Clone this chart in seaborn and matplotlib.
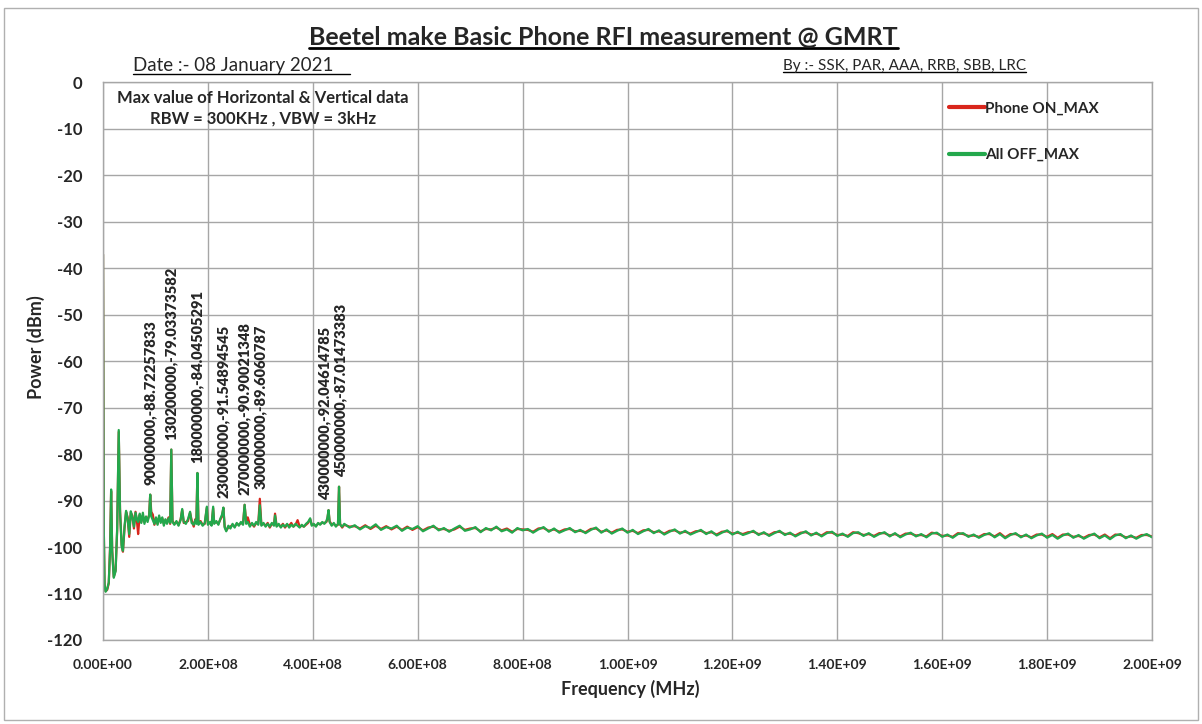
import pandas as pd
import numpy as np
import matplotlib
matplotlib.use("Agg")
import matplotlib.pyplot as plt
import seaborn as sns
from matplotlib.lines import Line2D
from matplotlib.patches import Rectangle
from matplotlib.ticker import FuncFormatter, MultipleLocator

# spectrum trace below 460 MHz (MHz / dBm)
freq_head_mhz = [
    0, 1.5, 3, 5, 8, 11, 13.5, 15.5, 17.5, 20.5, 24, 27, 30, 32.5, 35.5, 38, 41, 44, 47, 50,
    53, 56, 59, 62, 65, 67, 70, 73, 76, 79, 82, 85, 88, 90, 92, 95, 98, 101, 104, 107,
    110, 113, 116, 119, 122, 125, 128, 130.2, 132.5, 136, 140, 144, 148, 151, 154, 158, 162, 166, 169, 173,
    176, 178, 180, 182, 186, 190, 194, 198, 200, 204, 207, 210, 212, 216, 220, 224, 227, 229.5, 232, 235,
    239, 243, 247, 251, 255, 259, 263, 267, 270, 273, 276, 280, 284, 288, 292, 296, 299, 302, 306, 310,
    314, 318, 322, 326, 328, 331, 335, 339, 343, 347, 351, 355, 359, 363, 367, 371, 375, 379, 383, 387,
    391, 395, 398, 402, 406, 410, 414, 418, 422, 426, 428, 430, 432, 436, 440, 444, 448, 450, 452, 456,
]
off_head = [
    -37.0, -96.0, -108.2, -109.6, -109.0, -107.6, -100.5, -87.6, -101.0, -106.6, -105.2, -96.0, -74.8, -92.5, -99.8, -100.8, -95.6, -92.2, -94.0, -97.2,
    -92.3, -93.6, -95.6, -92.6, -94.2, -94.6, -92.8, -94.8, -92.6, -95.0, -93.4, -94.6, -93.2, -88.7, -93.4, -94.2, -95.0, -93.6, -95.2, -93.2,
    -94.8, -93.6, -95.4, -94.0, -95.0, -93.8, -94.8, -79.0, -94.6, -95.2, -94.4, -95.4, -94.2, -91.8, -94.6, -95.0, -94.0, -92.4, -94.8, -95.2,
    -94.2, -95.0, -84.05, -95.2, -94.6, -95.4, -94.8, -91.3, -95.2, -94.6, -95.4, -91.3, -95.0, -94.4, -95.2, -93.8, -93.0, -91.5, -95.8, -96.6,
    -95.4, -96.0, -95.0, -95.8, -94.8, -95.4, -94.6, -95.2, -90.9, -95.0, -94.6, -95.6, -94.8, -95.4, -94.6, -95.2, -91.0, -95.4, -94.8, -95.6,
    -95.0, -95.6, -94.8, -95.4, -93.2, -95.6, -95.0, -95.8, -95.2, -95.6, -95.0, -95.8, -95.2, -95.6, -95.0, -95.4, -95.8, -95.2, -95.6, -95.0,
    -94.6, -93.8, -95.4, -95.0, -95.6, -94.8, -95.2, -94.6, -95.0, -94.4, -93.6, -92.05, -94.6, -95.4, -94.8, -95.6, -95.0, -87.0, -95.2, -95.6,
]
on_head = [
    -37.0, -96.0, -108.0, -109.5, -109.2, -107.8, -100.0, -88.0, -100.5, -106.4, -105.0, -96.5, -75.2, -92.0, -99.5, -101.0, -96.0, -92.4, -93.6, -97.8,
    -92.6, -93.2, -96.0, -92.4, -94.8, -97.2, -93.0, -94.6, -93.2, -94.6, -94.0, -94.2, -93.0, -88.72, -92.4, -93.0, -95.2, -93.8, -95.0, -93.6,
    -94.4, -93.8, -95.0, -94.2, -94.6, -93.6, -95.0, -79.03, -94.4, -95.0, -94.6, -95.2, -94.0, -92.0, -94.8, -94.6, -94.4, -92.6, -94.2, -95.6,
    -94.0, -94.8, -84.05, -95.0, -94.4, -95.2, -95.0, -91.5, -95.0, -94.8, -95.2, -91.6, -94.8, -94.6, -95.0, -94.0, -93.4, -91.55, -95.6, -96.4,
    -95.8, -95.6, -95.2, -95.6, -95.0, -95.2, -94.8, -95.0, -90.9, -94.6, -93.6, -95.2, -95.0, -95.6, -94.8, -95.0, -89.6, -95.2, -95.0, -95.4,
    -94.8, -95.8, -95.0, -95.2, -92.8, -95.4, -95.2, -95.6, -95.0, -95.8, -95.2, -95.4, -94.8, -95.6, -95.2, -94.2, -95.6, -95.4, -95.6, -95.2,
    -94.8, -94.0, -95.2, -95.2, -95.4, -95.0, -95.0, -94.8, -94.8, -94.6, -93.8, -92.05, -94.4, -95.2, -95.0, -95.4, -95.2, -87.01, -95.0, -95.8,
]

# noise floor 460 MHz .. 2 GHz
freq_tail_mhz = [
    460, 470, 480, 490, 500, 510, 520, 530, 540, 550, 560, 570, 580, 590, 600, 610, 620, 630, 640, 650,
    660, 670, 680, 690, 700, 710, 720, 730, 740, 750, 760, 770, 780, 790, 800, 810, 820, 830, 840, 850,
    860, 870, 880, 890, 900, 910, 920, 930, 940, 950, 960, 970, 980, 990, 1000, 1010, 1020, 1030, 1040, 1050,
    1060, 1070, 1080, 1090, 1100, 1110, 1120, 1130, 1140, 1150, 1160, 1170, 1180, 1190, 1200, 1210, 1220, 1230, 1240, 1250,
    1260, 1270, 1280, 1290, 1300, 1310, 1320, 1330, 1340, 1350, 1360, 1370, 1380, 1390, 1400, 1410, 1420, 1430, 1440, 1450,
    1460, 1470, 1480, 1490, 1500, 1510, 1520, 1530, 1540, 1550, 1560, 1570, 1580, 1590, 1600, 1610, 1620, 1630, 1640, 1650,
    1660, 1670, 1680, 1690, 1700, 1710, 1720, 1730, 1740, 1750, 1760, 1770, 1780, 1790, 1800, 1810, 1820, 1830, 1840, 1850,
    1860, 1870, 1880, 1890, 1900, 1910, 1920, 1930, 1940, 1950, 1960, 1970, 1980, 1990, 2000,
]
off_tail = [
    -95.0, -95.8, -95.3, -96.2, -95.5, -95.9, -95.1, -96.3, -95.7, -96.0, -95.4, -96.5, -95.8, -96.1, -95.5, -96.6, -96.0, -95.4, -96.4, -95.9,
    -96.7, -96.0, -95.4, -96.5, -96.2, -95.7, -96.8, -95.9, -96.4, -95.6, -96.6, -96.2, -96.9, -95.9, -96.4, -96.1, -96.9, -96.2, -95.7, -96.7,
    -96.0, -96.9, -96.4, -95.9, -96.8, -96.3, -97.0, -96.3, -95.8, -96.9, -96.2, -97.1, -96.5, -96.0, -96.9, -96.3, -97.2, -96.6, -96.1, -97.0,
    -96.4, -97.3, -96.7, -96.2, -97.1, -96.5, -97.3, -96.8, -96.3, -97.2, -96.6, -97.5, -96.9, -96.4, -97.3, -96.7, -97.4, -97.0, -96.5, -97.4,
    -96.8, -97.6, -97.0, -96.5, -97.4, -96.9, -97.7, -97.1, -96.6, -97.5, -96.9, -97.7, -97.0, -96.7, -97.6, -97.1, -97.8, -97.0, -96.8, -97.6,
    -97.0, -97.8, -97.2, -96.8, -97.7, -97.0, -97.9, -97.3, -96.9, -97.7, -97.2, -97.9, -97.1, -96.9, -97.8, -97.3, -98.0, -97.2, -97.0, -97.8,
    -97.3, -98.0, -97.4, -97.0, -97.9, -97.2, -98.1, -97.4, -97.0, -97.9, -97.3, -98.1, -97.5, -97.1, -98.0, -97.4, -98.2, -97.5, -97.1, -98.0,
    -97.4, -98.2, -97.6, -97.1, -98.1, -97.5, -98.3, -97.5, -97.2, -98.1, -97.5, -98.2, -97.6, -97.2, -97.9,
]
on_tail = [
    -95.2, -95.6, -95.5, -96.0, -95.3, -96.1, -95.4, -96.1, -95.5, -96.2, -95.6, -96.3, -95.6, -96.3, -95.7, -96.4, -95.8, -95.6, -96.2, -96.1,
    -96.5, -96.2, -95.6, -96.3, -96.0, -95.9, -96.6, -96.1, -96.2, -95.8, -96.4, -96.0, -96.7, -96.1, -96.2, -96.3, -96.7, -96.0, -95.9, -96.5,
    -96.2, -96.7, -96.2, -96.1, -96.6, -96.5, -96.8, -96.1, -96.0, -96.7, -96.4, -96.9, -96.3, -96.2, -96.7, -96.5, -97.0, -96.4, -96.3, -96.8,
    -96.6, -97.1, -96.5, -96.4, -96.9, -96.7, -97.1, -96.6, -96.5, -97.0, -96.8, -97.3, -96.7, -96.6, -97.1, -96.9, -97.2, -96.8, -96.7, -97.2,
    -97.0, -97.4, -96.8, -96.7, -97.2, -97.1, -97.5, -96.9, -96.8, -97.3, -97.1, -97.5, -96.8, -96.9, -97.4, -97.3, -97.6, -96.8, -97.0, -97.4,
    -97.2, -97.6, -97.0, -97.0, -97.5, -97.2, -97.7, -97.1, -97.1, -97.5, -97.4, -97.7, -96.9, -97.1, -97.6, -97.5, -97.8, -97.0, -97.2, -97.6,
    -97.5, -97.8, -97.2, -97.2, -97.7, -97.0, -97.9, -97.2, -97.2, -97.7, -97.5, -97.9, -97.3, -97.3, -97.8, -97.2, -98.0, -97.3, -97.3, -97.8,
    -97.6, -98.0, -97.4, -97.3, -97.9, -97.3, -98.1, -97.3, -97.4, -97.9, -97.7, -98.0, -97.4, -97.4, -97.7,
]

series_names = ["Phone ON_MAX", "All OFF_MAX"]
series_colors = ["#d9261c", "#23a84c"]

# marker labels placed over the spikes (Hz, dBm)
spike_freq_hz = [90000000, 130200000, 180000000, 230000000, 270000000, 300000000, 430000000, 450000000]
spike_power = [-88.72257833, -79.03373582, -84.04505291, -91.54894545, -90.90021348, -89.6060787, -92.04614785, -87.01473383]
spike_label_dx = [0, 0, 0, 0, 0, 0, -2.5, 1.5]  # small horizontal nudges, points

x_ticks_hz = [0, 2e8, 4e8, 6e8, 8e8, 1e9, 1.2e9, 1.4e9, 1.6e9, 1.8e9, 2e9]

freq_hz = np.array(freq_head_mhz + freq_tail_mhz) * 1e6
df = pd.concat([
    pd.DataFrame({"freq": freq_hz, "power": on_head + on_tail, "series": series_names[0]}),
    pd.DataFrame({"freq": freq_hz, "power": off_head + off_tail, "series": series_names[1]}),
], ignore_index=True)

sns.set_style("white")
plt.rcParams["font.family"] = ["Lato", "DejaVu Sans"]
plt.rcParams["axes.unicode_minus"] = False

W, H = 1202, 724
fig = plt.figure(figsize=(W / 100, H / 100), dpi=100)
ax = fig.add_axes([103 / W, 1 - 640 / H, 1049 / W, 557.5 / H])

sns.lineplot(data=df, x="freq", y="power", hue="series", hue_order=series_names,
             palette=series_colors, sort=False, estimator=None, linewidth=1.6, ax=ax, legend=False)

ax.set_xlim(0, 2e9)
ax.set_ylim(-120, 0)
ax.set_xticks(x_ticks_hz)
ax.xaxis.set_major_formatter(FuncFormatter(lambda v, p: f"{v:.2E}"))
ax.yaxis.set_major_locator(MultipleLocator(10))
ax.grid(True, color="#a6a6a6", linewidth=1.0)
for s in ax.spines.values():
    s.set_color("#a6a6a6")
    s.set_linewidth(1.0)
ax.tick_params(axis="y", length=0, pad=15, labelsize=12)
ax.tick_params(axis="x", length=3, color="#a6a6a6", pad=11, labelsize=10)
for lab in ax.get_xticklabels() + ax.get_yticklabels():
    lab.set_fontweight("bold")

ax.set_xlabel("Frequency (MHz)", fontsize=13, fontweight="bold")
ax.set_ylabel("Power (dBm)", fontsize=13, fontweight="bold")
ax.xaxis.set_label_coords(0.503, -0.072)
ax.yaxis.set_label_coords(-0.055, 0.526)

# spike labels
for f, p, dx in zip(spike_freq_hz, spike_power, spike_label_dx):
    ax.annotate(f"{f},{p}", xy=(f, p), xytext=(dx, 7), textcoords="offset points",
                rotation=90, ha="center", va="bottom", fontsize=10.5, fontweight="heavy")

ax.text(0.1525, 0.972, "Max value of Horizontal & Vertical data", transform=ax.transAxes,
        ha="center", va="center", fontsize=12, fontweight="bold")
ax.text(0.1525, 0.936, "RBW = 300KHz , VBW = 3kHz", transform=ax.transAxes,
        ha="center", va="center", fontsize=12, fontweight="bold")

handles = [Line2D([], [], color=c, linewidth=3) for c in series_colors]
ax.legend(handles, series_names, loc="upper left", bbox_to_anchor=(0.793, 0.99), frameon=False,
          handlelength=2.4, handletextpad=0.0, labelspacing=2.1, prop={"weight": "bold", "size": 11})

title = fig.text(0.502, 1 - 37 / H, "Beetel make Basic Phone RFI measurement @ GMRT",
                 ha="center", va="center", fontsize=18, fontweight="bold")
date_txt = fig.text(133 / W, 1 - 66 / H, "Date :- 08 January 2021", ha="left", va="center", fontsize=13.5)
by_txt = fig.text(783 / W, 1 - 66 / H, "By :- SSK, PAR, AAA, RRB, SBB, LRC", ha="left", va="center", fontsize=11)

fig.canvas.draw()
inv = fig.transFigure.inverted()


def underline(t, extra=0, lw=1.0):
    bb = t.get_window_extent()
    (x0, y0), (x1, _) = inv.transform([(bb.x0, bb.y0 + 1), (bb.x1 + extra, bb.y0)])
    fig.add_artist(Line2D([x0, x1], [y0, y0], transform=fig.transFigure, color="black", linewidth=lw))


underline(title, lw=2.0)
underline(date_txt, extra=16)
underline(by_txt)

fig.add_artist(Rectangle((4 / W, 4 / H), 1 - 8 / W, 1 - 12 / H, transform=fig.transFigure,
                         fill=False, edgecolor="#b0b0b0", linewidth=1.0))

fig.savefig("out.png", dpi=100)
